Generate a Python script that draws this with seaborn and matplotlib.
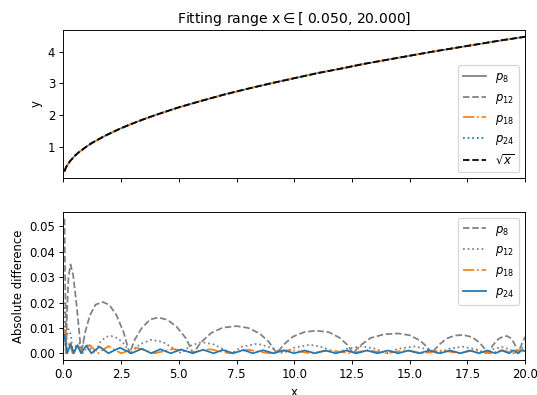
import matplotlib
matplotlib.use('Agg')
import matplotlib.pyplot as plt
import seaborn as sns

# top panel: the fitted curves (all fits sit on top of sqrt(x) at this scale)
x_top = [0.05, 0.1, 0.15, 0.2, 0.3, 0.4, 0.5, 0.65, 0.8, 1.0, 1.25, 1.5, 1.75, 2.0,
         2.5, 3.0, 3.5, 4.0, 5.0, 6.0, 7.0, 8.0, 9.0, 10.0, 11.0, 12.0, 13.0, 14.0,
         15.0, 16.0, 17.0, 18.0, 19.0, 20.0]
y_top = [0.22, 0.32, 0.39, 0.45, 0.55, 0.63, 0.71, 0.81, 0.89, 1.0, 1.12, 1.22, 1.32, 1.41,
         1.58, 1.73, 1.87, 2.0, 2.24, 2.45, 2.65, 2.83, 3.0, 3.16, 3.32, 3.46, 3.61, 3.74,
         3.87, 4.0, 4.12, 4.24, 4.36, 4.47]

# bottom panel: absolute difference for each fit
x_p8 = [0.05, 0.08, 0.12, 0.16, 0.22, 0.31, 0.42, 0.55, 0.67, 0.77,
        0.95, 1.15, 1.4, 1.71, 2.0, 2.3, 2.6, 2.87,
        3.1, 3.4, 3.75, 4.11, 4.5, 4.9, 5.3, 5.62,
        5.95, 6.4, 6.9, 7.5, 8.0, 8.5, 8.9, 9.24,
        9.55, 9.95, 10.45, 10.97, 11.5, 11.95, 12.3, 12.54,
        12.85, 13.3, 13.9, 14.51, 15.0, 15.45, 15.75, 15.95,
        16.25, 16.6, 16.95, 17.32, 17.7, 18.05, 18.39,
        18.6, 18.85, 19.05, 19.22, 19.4, 19.55, 19.69, 19.8, 19.9, 20.0]
y_p8 = [0.053, 0.027, 0.0, 0.016, 0.030, 0.035, 0.031, 0.021, 0.010, 0.0,
        0.0085, 0.0150, 0.0192, 0.0202, 0.0190, 0.0150, 0.0085, 0.0,
        0.0055, 0.0100, 0.0133, 0.0141, 0.0132, 0.0105, 0.0060, 0.0,
        0.0042, 0.0080, 0.0101, 0.0107, 0.0100, 0.0078, 0.0045, 0.0,
        0.0035, 0.0066, 0.0084, 0.0089, 0.0083, 0.0062, 0.0033, 0.0,
        0.0030, 0.0060, 0.0075, 0.0078, 0.0071, 0.0050, 0.0025, 0.0,
        0.0032, 0.0058, 0.0070, 0.0072, 0.0064, 0.0040, 0.0,
        0.0032, 0.0057, 0.0066, 0.0068, 0.0058, 0.0035, 0.0, 0.0025, 0.0045, 0.0065]

x_p12 = [0.05, 0.07, 0.1, 0.14, 0.22, 0.32, 0.42,
         0.55, 0.8, 1.05, 1.35,
         1.6, 1.85, 2.07, 2.35, 2.65, 2.9,
         3.3, 3.8, 4.3, 4.75, 5.1,
         5.5, 6.0, 6.5, 6.95, 7.3,
         7.7, 8.4, 9.0, 9.5,
         10.0, 10.7, 11.3, 11.8,
         12.3, 12.9, 13.5, 14.0,
         14.5, 15.2, 15.8, 16.2,
         16.7, 17.3, 17.9, 18.3,
         18.6, 19.0, 19.35, 19.6, 19.8, 20.0]
y_p12 = [0.020, 0.009, 0.0, 0.006, 0.0095, 0.0075, 0.0,
         0.0030, 0.0045, 0.0030, 0.0,
         0.0045, 0.0065, 0.0068, 0.0060, 0.0035, 0.0,
         0.0035, 0.0053, 0.0045, 0.0020, 0.0,
         0.0030, 0.0044, 0.0035, 0.0015, 0.0,
         0.0025, 0.0038, 0.0022, 0.0,
         0.0022, 0.0034, 0.0022, 0.0,
         0.0018, 0.0028, 0.0018, 0.0,
         0.0018, 0.0027, 0.0015, 0.0,
         0.0018, 0.0026, 0.0015, 0.0,
         0.0016, 0.0025, 0.0014, 0.0, 0.0015, 0.0030]

x_p18 = [0.05, 0.12, 0.25, 0.4, 0.6, 0.85, 1.13, 1.5, 1.95, 2.5, 3.15, 3.95,
         4.75, 5.55, 6.35, 7.2, 8.0, 8.9, 9.8, 10.7, 11.55, 12.4, 13.2, 14.0,
         14.8, 15.6, 16.4, 17.1, 17.8, 18.5, 19.0, 19.5, 19.75, 20.0]
y_p18 = [0.0095, 0.0, 0.0040, 0.0, 0.0035, 0.0, 0.0033, 0.0, 0.0028, 0.0, 0.0022, 0.0,
         0.0017, 0.0004, 0.0016, 0.0, 0.0014, 0.0, 0.0013, 0.0, 0.0012, 0.0, 0.0012, 0.0,
         0.0012, 0.0, 0.0012, 0.0, 0.0012, 0.0, 0.0012, 0.0, 0.0013, 0.0010]

x_p24 = [0.05, 0.1, 0.17, 0.31, 0.45, 0.6, 0.77, 0.99, 1.21, 1.57, 1.95,
         2.45, 2.95, 3.4, 3.8, 4.2, 4.65, 5.1, 5.6, 6.05, 6.5, 6.9, 7.35,
         7.8, 8.2, 8.65, 9.1, 9.55, 10.0, 10.45, 10.9, 11.35, 11.8, 12.25,
         12.7, 13.15, 13.6, 14.05, 14.5, 14.95, 15.4, 15.85, 16.3, 16.75,
         17.2, 17.6, 18.0, 18.35, 18.7, 19.0, 19.3, 19.5, 19.7, 19.85, 20.0]
y_p24 = [0.0072, 0.0035, 0.0, 0.0039, 0.0, 0.0031, 0.0, 0.0030, 0.0, 0.0026, 0.0,
         0.0022, 0.0, 0.0018, 0.0, 0.0016, 0.0, 0.0015, 0.0, 0.0014, 0.0, 0.0013, 0.0,
         0.0013, 0.0, 0.0012, 0.0, 0.0012, 0.0, 0.0011, 0.0, 0.0011, 0.0, 0.0011,
         0.0, 0.0011, 0.0, 0.0011, 0.0, 0.0011, 0.0, 0.0011, 0.0, 0.0011,
         0.0, 0.0011, 0.0, 0.0011, 0.0, 0.0011, 0.0, 0.0012, 0.0, 0.0012, 0.0008]

labels = ['$p_{8}$', '$p_{12}$', '$p_{18}$', '$p_{24}$']
title = 'Fitting range x$\\in$[ 0.050, 20.000]'
diff_ticks = [0.0, 0.01, 0.02, 0.03, 0.04, 0.05]

DPI = 84
fig, ax = plt.subplots(nrows=2, sharex=True, figsize=(537 / DPI, 395 / DPI), dpi=DPI)
fig.subplots_adjust(left=0.118, right=0.978, top=0.924, bottom=0.0886, hspace=0.23)

top_styles = [('gray', '-'), ('gray', '--'), ('C1', '-.'), ('C0', ':')]
for lab, (col, ls) in zip(labels, top_styles):
    sns.lineplot(x=x_top, y=y_top, ax=ax[0], color=col, linestyle=ls, label=lab)
sns.lineplot(x=x_top, y=y_top, ax=ax[0], color='black', linestyle='--', label='$\\sqrt{x}$')
ax[0].set_title(title)
ax[0].set_xlabel('x')
ax[0].set_ylabel('y')
ax[0].set_yticks([1, 2, 3, 4])
ax[0].legend(loc='lower right')

diffs = [(x_p8, y_p8), (x_p12, y_p12), (x_p18, y_p18), (x_p24, y_p24)]
bottom_styles = [('gray', '--'), ('gray', ':'), ('C1', '-.'), ('C0', '-')]
for lab, (xs, ys), (col, ls) in zip(labels, diffs, bottom_styles):
    sns.lineplot(x=xs, y=ys, ax=ax[1], color=col, linestyle=ls, label=lab)
ax[1].set_xlabel('x')
ax[1].set_ylabel('Absolute difference')
ax[1].set_xlim(0, 20)
ax[1].set_yticks(diff_ticks)
ax[1].legend(loc='upper right')
ax[0].xaxis.set_tick_params(labelbottom=False)

fig.savefig('out.png', dpi=DPI)
